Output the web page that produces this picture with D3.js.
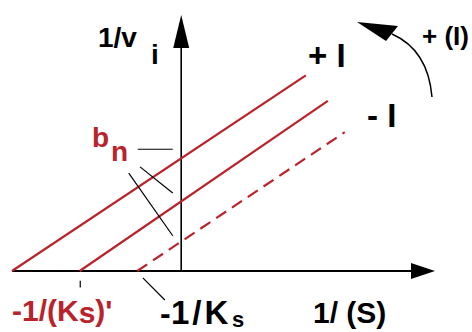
<!DOCTYPE html>
<html>
<head>
<meta charset="utf-8">
<script src="https://cdn.jsdelivr.net/npm/d3@7"></script>
<style>
  html, body { margin: 0; padding: 0; background: #fff; }
  svg { display: block; }
  text { font-family: "Liberation Sans", Arial, sans-serif; font-weight: bold; }
</style>
</head>
<body>
<svg id="chart" width="472" height="332"></svg>
<script>
// Lineweaver-Burk plot: 1/v versus 1/[S], with and without inhibitor
const xDomain = [-3, 4.5];   // 1/[S]
const yDomain = [0, 4.5];    // 1/v

// Straight lines, each given by its x-intercept and its upper end
const lineNames = ["+I", "-I", "none"];
const lineStarts = [[-3.0, 0], [-1.8, 0], [-0.78, 0]];
const lineEnds = [[2.21, 3.44], [2.60, 2.99], [2.90, 2.44]];
const lineDashed = [false, false, true];

// Black leader strokes (data coordinates)
const leaders = [
  [[-0.77, 2.14], [-0.15, 2.14]],   // b_n marker
  [[-0.73, 1.83], [-0.15, 1.37]],
  [[-0.93, 1.72], [-0.15, 0.62]],
  [[-0.68, -0.12], [-0.29, -0.51]], // points to -1/Ks
  [[-1.79, -0.17], [-1.79, -0.29]]  // tick under -1/(Ks)'
];

const red = "#b9232b";
const svg = d3.select("#chart");

const x = d3.scaleLinear().domain(xDomain).range([12, 435]);
const y = d3.scaleLinear().domain(yDomain).range([271, 15]);

// Axes
const axes = svg.append("g").attr("stroke", "#000");
axes.append("line")
  .attr("x1", x(xDomain[0])).attr("x2", x(xDomain[1]) - 10)
  .attr("y1", y(0)).attr("y2", y(0)).attr("stroke-width", 2);
axes.append("line")
  .attr("x1", x(0)).attr("x2", x(0))
  .attr("y1", y(0)).attr("y2", y(yDomain[1]) + 10).attr("stroke-width", 1.6);

// Arrow heads
svg.append("path")
  .attr("d", `M${x(xDomain[1])},${y(0)} L${x(xDomain[1]) - 24},${y(0) - 8} L${x(xDomain[1]) - 24},${y(0) + 8} Z`)
  .attr("fill", "#000");
svg.append("path")
  .attr("d", `M${x(0)},${y(yDomain[1])} L${x(0) - 8},${y(yDomain[1]) + 33} L${x(0) + 8},${y(yDomain[1]) + 33} Z`)
  .attr("fill", "#000");

// Inhibition lines
const line = d3.line().x(d => x(d[0])).y(d => y(d[1]));
svg.append("g").selectAll("path")
  .data(lineNames.map((n, i) => ({ n, pts: [lineStarts[i], lineEnds[i]], dashed: lineDashed[i] })))
  .join("path")
  .attr("d", d => line(d.pts))
  .attr("fill", "none")
  .attr("stroke", red)
  .attr("stroke-width", 2.2)
  .attr("stroke-dasharray", d => d.dashed ? "12,7" : null);

// Leader strokes
svg.append("g").selectAll("path")
  .data(leaders)
  .join("path")
  .attr("d", d => line(d))
  .attr("stroke", "#000")
  .attr("stroke-width", 1.2)
  .attr("fill", "none");

// Curved arrow showing increasing inhibitor
svg.append("path")
  .attr("d", "M432,97 Q428,50 392,34")
  .attr("fill", "none").attr("stroke", "#000").attr("stroke-width", 1.5);
svg.append("path")
  .attr("d", "M357,22 L398,26 L386,41 Z")
  .attr("fill", "#000");

// Labels
const t = (txt, px, py, size, color = "#000") =>
  svg.append("text").attr("x", px).attr("y", py)
    .attr("font-size", size).attr("fill", color).text(txt);

t("1/v", 98, 47, 28);
t("i", 151, 64, 28);
t("+ I", 308, 67, 33);
t("- I", 367, 127, 33);
t("+ (I)", 422, 45, 26);
t("b", 92, 147, 28, red);
t("n", 111, 161, 28, red);

const ks1 = svg.append("text").attr("x", 12).attr("y", 321)
  .attr("font-size", 30).attr("fill", red);
ks1.append("tspan").text("-1/(K");
ks1.append("tspan").attr("dy", 2).text("s");
ks1.append("tspan").attr("dy", -2).text(")'");

t("-", 160, 324, 32);
t("1/K", 171, 324, 33).attr("letter-spacing", 3);
t("s", 232, 327, 22);
t("1/ (S)", 313, 323, 30);
</script>
</body>
</html>
